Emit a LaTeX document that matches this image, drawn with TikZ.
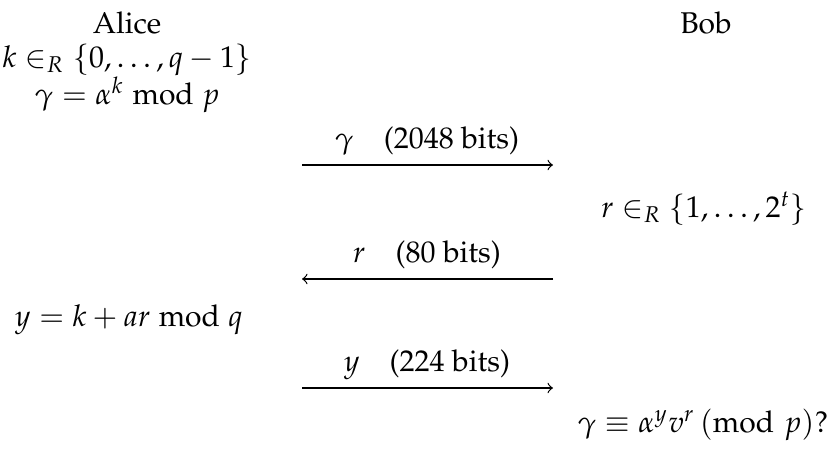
\documentclass[tikz,border=0pt]{standalone}
\usepackage[T1]{fontenc}
\usepackage{mathpazo}
\usepackage{amsmath}
\begin{document}
\begin{tikzpicture}[x=0.3333pt,y=-0.3333pt,
  txt/.style={inner sep=0pt, anchor=base},
  msg/.style={->, line width=0.4pt}]
\useasboundingbox (0,0) rectangle (828,453);
% Alice column
\node[txt] (alice) at (127,33) {Alice};
\node[txt] (k) at (127,67) {$k \in_R \{0,\ldots,q-1\}$};
\node[txt] (gam) at (127,104) {$\gamma = \alpha^k \bmod p$};
% Bob column
\node[txt] (bob) at (706,33) {Bob};
% message 1
\coordinate (m1a) at (302,165);
\coordinate (m1b) at (553,165);
\node[txt] (l1) at (427,148) {$\gamma \quad \text{(2048 bits)}$};
\draw[msg] (m1a) -- (m1b);
% Bob challenge
\node[txt] (r) at (704,217) {$r \in_R \{1,\ldots,2^t\}$};
% message 2
\coordinate (m2a) at (553,279);
\coordinate (m2b) at (302,279);
\node[txt] (l2) at (427,262) {$r \quad \text{(80 bits)}$};
\draw[msg] (m2a) -- (m2b);
% Alice response
\node[txt] (y) at (129,326) {$y = k + ar \bmod q$};
% message 3
\coordinate (m3a) at (302,388);
\coordinate (m3b) at (553,388);
\node[txt] (l3) at (427,371) {$y \quad \text{(224 bits)}$};
\draw[msg] (m3a) -- (m3b);
% Bob check
\node[txt] (chk) at (703,432) {$\gamma \equiv \alpha^y v^r\,(\mathrm{mod}\,\,p)?$};
\end{tikzpicture}
\end{document}
